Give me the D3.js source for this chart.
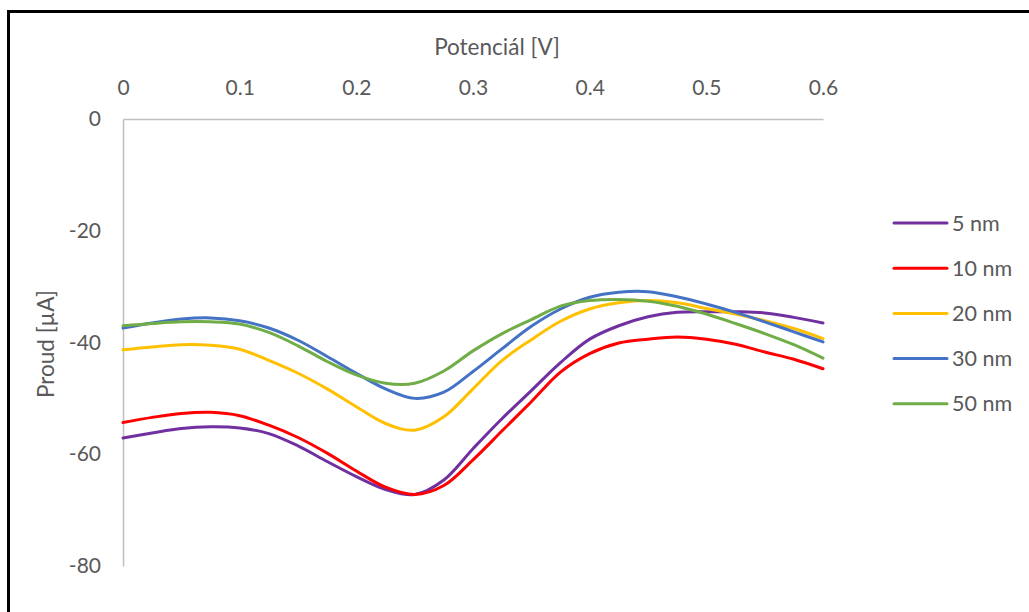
<!DOCTYPE html>
<html>
<head>
<meta charset="utf-8">
<script src="https://cdn.jsdelivr.net/npm/d3@7"></script>
<style>
  html, body { margin: 0; padding: 0; background: #fff; }
  svg { display: block; }
</style>
</head>
<body>
<svg id="chart" width="1029" height="612"></svg>
<script>
// Potential sweep (V)
const potential = [0, 0.025, 0.05, 0.075, 0.1, 0.125, 0.15, 0.175, 0.2, 0.225, 0.25, 0.275,
  0.3, 0.325, 0.35, 0.375, 0.4, 0.425, 0.45, 0.475, 0.5, 0.525, 0.55, 0.575, 0.6];

// Current (µA) for each layer thickness
const current5nm = [-57.1, -56.2, -55.4, -55.1, -55.3, -56.3, -58.5, -61.3, -64.0, -66.3, -67.2, -64.6,
  -59.0, -53.6, -48.6, -43.6, -39.4, -37.0, -35.4, -34.6, -34.5, -34.5, -34.7, -35.5, -36.5];
const current10nm = [-54.3, -53.4, -52.7, -52.5, -53.1, -54.8, -57.0, -59.8, -63.0, -65.9, -67.2, -65.6,
  -61.0, -55.8, -50.6, -45.3, -42.0, -40.1, -39.4, -39.0, -39.4, -40.3, -41.7, -43.0, -44.7];
const current20nm = [-41.3, -40.8, -40.4, -40.5, -41.2, -43.2, -45.5, -48.3, -51.5, -54.5, -55.7, -53.3,
  -48.3, -43.2, -39.5, -36.2, -34.0, -32.9, -32.5, -32.9, -33.9, -34.9, -36.1, -37.5, -39.3];
const current30nm = [-37.4, -36.5, -35.8, -35.6, -36.1, -37.4, -39.6, -42.5, -45.5, -48.3, -50.0, -48.9,
  -45.2, -41.1, -37.1, -34.0, -31.9, -31.0, -30.9, -31.8, -33.1, -34.6, -36.3, -38.1, -39.9];
const current50nm = [-37.0, -36.6, -36.3, -36.3, -36.7, -38.2, -40.6, -43.4, -45.8, -47.3, -47.3, -45.1,
  -41.5, -38.4, -35.9, -33.5, -32.5, -32.3, -32.6, -33.5, -34.9, -36.6, -38.4, -40.4, -42.8];

const seriesNames = ["5 nm", "10 nm", "20 nm", "30 nm", "50 nm"];
const seriesColors = ["#7030A0", "#FF0000", "#FFC000", "#4472C4", "#70AD47"];
const xTicks = [0, 0.1, 0.2, 0.3, 0.4, 0.5, 0.6];
const yTicks = [0, -20, -40, -60, -80];

const seriesValues = [current5nm, current10nm, current20nm, current30nm, current50nm];
const series = seriesNames.map((name, i) => ({
  name,
  color: seriesColors[i],
  points: potential.map((v, j) => ({ v, i: seriesValues[i][j] }))
}));

const svg = d3.select("#chart");
const FONT = "Lato, 'Open Sans', sans-serif";
const TEXT = "#595959";

// outer frame
svg.append("rect")
  .attr("x", 8.5).attr("y", 11.5)
  .attr("width", 1040).attr("height", 620)
  .attr("fill", "none").attr("stroke", "#000").attr("stroke-width", 3);

const x = d3.scaleLinear().domain([0, 0.6]).range([123, 823]);
const y = d3.scaleLinear().domain([-80, 0]).range([566, 119]);

// x axis along the top (zero current line)
const xAxis = svg.append("g")
  .attr("transform", `translate(0,${y(0)})`)
  .call(d3.axisTop(x).tickValues(xTicks).tickSize(0).tickPadding(24)
    .tickFormat(d => String(d)));
xAxis.select(".domain").attr("stroke", "#BFBFBF").attr("stroke-width", 1.5);
xAxis.selectAll("text").attr("fill", TEXT).attr("font-family", FONT).attr("font-size", 21);

// y axis
const yAxis = svg.append("g")
  .attr("transform", `translate(${x(0)},0)`)
  .call(d3.axisLeft(y).tickValues(yTicks).tickSize(0).tickPadding(22).tickFormat(d => String(d)));
yAxis.select(".domain").attr("stroke", "#BFBFBF").attr("stroke-width", 1.5);
yAxis.selectAll("text").attr("fill", TEXT).attr("font-family", FONT).attr("font-size", 21);

// axis titles
svg.append("text")
  .attr("x", 497).attr("y", 47).attr("dy", "0.35em")
  .attr("text-anchor", "middle")
  .attr("fill", TEXT).attr("font-family", FONT).attr("font-size", 22.5)
  .text("Potenciál [V]");

svg.append("text")
  .attr("transform", "translate(46,344) rotate(-90)")
  .attr("dy", "0.35em")
  .attr("text-anchor", "middle")
  .attr("fill", TEXT).attr("font-family", FONT).attr("font-size", 22.5)
  .text("Proud [µA]");

// current curves
const line = d3.line()
  .x(d => x(d.v))
  .y(d => y(d.i))
  .curve(d3.curveCatmullRom.alpha(0.5));

svg.append("g").selectAll("path")
  .data(series)
  .join("path")
  .attr("d", d => line(d.points))
  .attr("fill", "none")
  .attr("stroke", d => d.color)
  .attr("stroke-width", 3)
  .attr("stroke-linejoin", "round")
  .attr("stroke-linecap", "round");

// legend
const legend = svg.append("g").attr("transform", "translate(894,223)");
const item = legend.selectAll("g")
  .data(series)
  .join("g")
  .attr("transform", (d, i) => `translate(0,${i * 45.2})`);
item.append("line")
  .attr("x1", 0).attr("x2", 53).attr("y1", 0).attr("y2", 0)
  .attr("stroke", d => d.color).attr("stroke-width", 3).attr("stroke-linecap", "round");
item.append("text")
  .attr("x", 58).attr("y", 0).attr("dy", "0.35em")
  .attr("fill", TEXT).attr("font-family", FONT).attr("font-size", 21.5)
  .text(d => d.name);
</script>
</body>
</html>
